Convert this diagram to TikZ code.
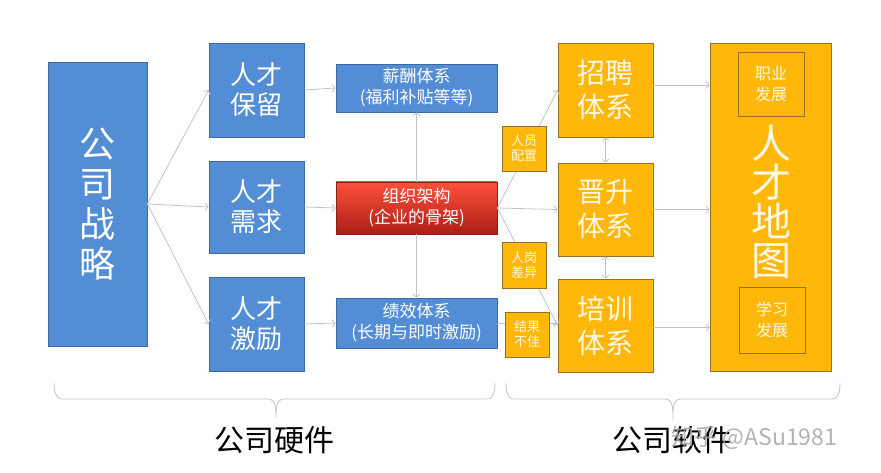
\documentclass[tikz,border=0pt]{standalone}
\usepackage{fontspec}
\setmainfont{Noto Sans CJK SC}
\usetikzlibrary{arrows.meta}
\definecolor{hrblue}{RGB}{83,141,213}
\definecolor{hrblueline}{RGB}{62,104,160}
\definecolor{hrgold}{RGB}{255,184,10}
\definecolor{hrgoldline}{RGB}{150,112,30}
\definecolor{hrredtop}{RGB}{255,80,60}
\definecolor{hrredbot}{RGB}{172,30,22}
\definecolor{hrredline}{RGB}{140,30,25}
\definecolor{hrline}{RGB}{188,196,208}
\definecolor{hrmark}{RGB}{165,165,165}
\definecolor{hrcream}{RGB}{255,248,228}

\tikzset{
  bluebox/.style={draw=hrblueline, fill=hrblue, text=white, line width=0.8pt, align=center, inner sep=0pt},
  goldbox/.style={draw=hrgoldline, fill=hrgold, text=hrcream, line width=0.8pt, align=center, inner sep=0pt},
  redbox/.style={draw=hrredline, top color=hrredtop, bottom color=hrredbot, text=white, line width=0.8pt, align=center, inner sep=0pt},
  conn/.style={draw=hrline, line width=0.8pt, -{Straight Barb[length=3pt,width=7pt]}},
  bothconn/.style={draw=hrline, line width=0.8pt, {Straight Barb[length=3pt,width=7pt]}-{Straight Barb[length=3pt,width=7pt]}},
  braceline/.style={draw=hrline, line width=0.8pt},
  tagfont/.style={font=\fontsize{13}{15}\selectfont},
  midfont/.style={font=\fontsize{17}{21}\selectfont},
  sqfont/.style={font=\fontsize{26}{30}\selectfont}
}

\begin{document}
\begin{tikzpicture}[x=1pt, y=-1pt]
    \useasboundingbox (0,0) rectangle (881,473);

    % Strategy column
    \node[bluebox, minimum width=99pt, minimum height=284pt, font=\fontsize{36}{40}\selectfont] (strat) at (97.5,204) {公\\司\\战\\略};

    % Talent boxes
    \node[bluebox, sqfont, minimum width=95pt, minimum height=94pt] (keep) at (256.5,90) {人才\\保留};
    \node[bluebox, sqfont, minimum width=95pt, minimum height=92pt] (need) at (256.5,207) {人才\\需求};
    \node[bluebox, sqfont, minimum width=95pt, minimum height=94pt] (motiv) at (256.5,324) {人才\\激励};

    % Hardware systems
    \node[bluebox, midfont, minimum width=161pt, minimum height=48pt] (pay) at (416.5,88) {薪酬体系\\(福利补贴等等)};
    \node[redbox, midfont, minimum width=161pt, minimum height=52pt] (org) at (416.5,208) {组织架构\\(企业的骨架)};
    \node[bluebox, midfont, minimum width=161pt, minimum height=50pt] (perf) at (416.5,323) {绩效体系\\(长期与即时激励)};

    % Software systems
    \node[goldbox, font=\fontsize{28}{34}\selectfont, minimum width=95pt, minimum height=94pt] (recruit) at (605.5,90) {招聘\\体系};
    \node[goldbox, font=\fontsize{28}{34}\selectfont, minimum width=95pt, minimum height=93pt] (promo) at (605.5,209.5) {晋升\\体系};
    \node[goldbox, font=\fontsize{28}{34}\selectfont, minimum width=95pt, minimum height=93pt] (train) at (605.5,325.5) {培训\\体系};

    % Talent map
    \node[goldbox, minimum width=121pt, minimum height=328pt] (map) at (770.5,207) {};
    \node[text=hrcream, align=center, font=\fontsize{40}{39}\selectfont] (maptext) at (771,202) {人\\才\\地\\图};
    \node[goldbox, font=\fontsize{16}{21}\selectfont, minimum width=66pt, minimum height=64pt] (career) at (771,84) {职业\\发展};
    \node[goldbox, font=\fontsize{16}{21}\selectfont, minimum width=66pt, minimum height=66pt] (learn) at (772,320) {学习\\发展};

    % Arrows
    \draw[conn] (strat.east) -- (keep.west);
    \draw[conn] (strat.east) -- (need.west);
    \draw[conn] (strat.east) -- (motiv.west);
    \draw[conn] (keep.east) -- (pay.west);
    \draw[conn] (need.east) -- (org.west);
    \draw[conn] (motiv.east) -- (perf.west);
    \draw[conn] (org.north) -- (pay.south);
    \draw[conn] (org.south) -- (perf.north);
    \draw[conn] (org.east) -- (recruit.west);
    \draw[conn] (org.east) -- (promo.west);
    \draw[conn] (org.east) -- (train.west);
    \draw[conn] (perf.east) -- (perf.east -| train.west);
    \draw[bothconn] (recruit.south) -- (promo.north);
    \draw[bothconn] (promo.south) -- (train.north);
    \draw[conn] ([yshift=5pt]recruit.east) -- ([yshift=5pt]recruit.east -| map.west);
    \draw[conn] (promo.east) -- (promo.east -| map.west);
    \draw[conn] ([yshift=-2pt]train.east) -- ([yshift=-2pt]train.east -| map.west);

    % Tags on the arrows
    \node[goldbox, tagfont, minimum width=44pt, minimum height=45pt] (staff) at (524,148.5) {人员\\配置};
    \node[goldbox, tagfont, minimum width=44pt, minimum height=46pt] (gap) at (524,265) {人岗\\差异};
    \node[goldbox, tagfont, minimum width=44pt, minimum height=45pt] (poor) at (527,334.5) {结果\\不佳};

    % Braces
    \draw[braceline] (54,383) to[out=-90,in=180] (62,399) -- (268,399) to[out=0,in=90] (276,418)
        to[out=90,in=180] (284,399) -- (487,399) to[out=0,in=-90] (495,383);
    \draw[braceline] (506,383) to[out=-90,in=180] (514,399) -- (665,399) to[out=0,in=90] (673,420)
        to[out=90,in=180] (681,399) -- (832,399) to[out=0,in=-90] (840,383);
    \node[font=\fontsize{30}{32}\selectfont] (hard) at (274,440) {公司硬件};
    \node[font=\fontsize{30}{32}\selectfont] (soft) at (672,440) {公司软件};
    \node[text=hrmark, opacity=0.85, font=\fontsize{23}{25}\selectfont, anchor=west] (mark) at (668,438) {知乎 @ASu1981};
\end{tikzpicture}
\end{document}
